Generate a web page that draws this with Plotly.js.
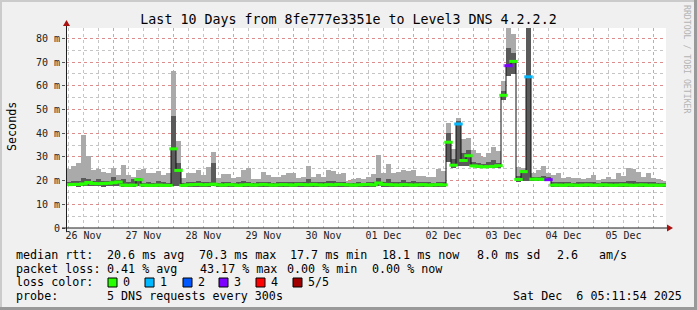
<!DOCTYPE html>
<html>
<head>
<meta charset="utf-8">
<script src="https://cdn.plot.ly/plotly-3.0.1.min.js"></script>
<style>html,body{margin:0;padding:0;background:#f0f0f0;}</style>
</head>
<body>
<div id="chart" style="width:697px;height:310px"></div>
<script>
// ---- data (2-hour bins starting 2025-11-26 06:00) ----
const startUTC = Date.UTC(2025, 10, 26, 6);
const stepHours = 2;

const rttMax = [
  24.8, 26.0, 27.3, 39.4, 30.4, 24.5, 24.8, 23.7, 23.1, 25.2, 22.4, 26.7, 22.4, 21.7, 24.5, 24.8, 23.1, 23.1, 24.2, 22.4, 23.1,
  66.2, 36.8, 21.0, 23.1, 23.3, 24.5, 22.4, 25.9, 31.9, 21.0, 22.7, 22.9, 21.0, 21.5, 24.5, 25.2, 20.5, 20.6, 23.7, 22.4, 21.7, 21.5,
  22.5, 23.1, 23.4, 21.0, 21.5, 26.3, 21.7, 22.8, 21.4, 24.5, 24.0, 22.8, 23.4, 19.8, 20.5, 20.9, 20.5, 21.7, 22.6, 30.8, 23.1, 27.0,
  23.1, 23.8, 24.5, 24.1, 24.5, 21.9, 21.9, 21.5, 21.7, 24.8, 24.1,
  44.2, 33.5, 46.3, 37.5, 38.0, 33.0,
  31.8, 30.1, 31.8, 34.3, 32.5,
  62.0, 84.5, 82.0,
  25.9, 25.5, 85.0, 23.3, 24.5, 26.2, 23.3, 22.5,
  23.1, 20.9, 21.6, 20.9, 21.2, 20.5, 20.9, 22.4, 20.3, 20.5, 21.7, 20.5, 23.1, 21.9, 25.5, 24.8, 23.7, 21.7, 23.1, 20.9, 20.5, 19.7
];
const rttDark = [
  19.5, 19.8, 20.0, 21.3, 20.5, 20.0, 20.8, 20.0, 19.8, 21.6, 20.2, 20.5, 19.5, 20.5, 21.0, 19.2, 19.5, 19.2, 19.8, 19.5, 19.2,
  47.3, 27.6, 19.2, 19.5, 19.4, 19.8, 19.3, 19.6, 27.3, 19.2, 19.5, 19.6, 19.2, 19.3, 19.8, 19.6, 19.2, 19.3, 19.6, 19.4, 19.2, 19.3,
  19.5, 19.6, 19.4, 19.3, 19.5, 20.5, 19.4, 19.6, 19.3, 20.0, 19.8, 19.5, 19.4, 19.0, 19.2, 19.3, 19.2, 19.5, 19.6, 21.0, 19.5, 20.5,
  19.4, 19.5, 20.3, 19.6, 19.8, 19.3, 19.4, 19.3, 19.2, 19.6, 19.5,
  40.0, 29.0, 45.0, 31.6, 33.0, 28.0,
  27.5, 27.2, 27.8, 28.5, 27.5,
  58.0, 76.0, 74.0,
  22.0, 24.5, 85.0, 21.5, 21.5, 22.0, 21.4, 19.5,
  19.6, 19.3, 19.4, 19.2, 19.5, 19.3, 19.4, 19.6, 19.2, 19.3, 19.5, 19.3, 19.6, 19.4, 20.0, 19.8, 19.6, 19.4, 19.5, 19.3, 19.2, 19.0
];
const rttMin = [
  17.6, 17.6, 17.5, 17.6, 17.7, 17.6, 17.6, 17.5, 17.6, 17.7, 17.8, 17.4, 17.3, 17.4, 17.8, 17.4, 17.3, 17.4, 17.4, 17.3, 17.4,
  17.6, 17.8, 17.3, 17.4, 17.5, 17.4, 17.4, 17.5, 17.6, 17.3, 17.4, 17.4, 17.3, 17.3, 17.4, 17.5, 17.3, 17.4, 17.4, 17.3, 17.3, 17.4,
  17.4, 17.3, 17.3, 17.4, 17.4, 17.3, 17.5, 17.4, 17.3, 17.4, 17.4, 17.5, 17.4, 17.3, 17.3, 17.4, 17.4, 17.5, 17.4, 17.6, 17.5, 17.4,
  17.4, 17.3, 17.4, 17.4, 17.3, 17.4, 17.4, 17.3, 17.4, 17.4, 17.4,
  28.0, 25.5, 26.0, 26.0, 26.2, 25.6,
  25.3, 25.2, 25.3, 25.4, 25.5,
  54.0, 64.0, 65.0,
  19.6, 20.0, 20.0, 19.8, 19.8, 19.7, 19.7, 17.4,
  17.4, 17.3, 17.4, 17.4, 17.3, 17.4, 17.4, 17.3, 17.4, 17.4, 17.3, 17.4, 17.4, 17.3, 17.4, 17.4, 17.3, 17.4, 17.4, 17.3, 17.4, 17.3
];
const rttMedian = [
  18.3, 18.4, 18.4, 18.6, 19.2, 18.8, 18.7, 18.8, 18.9, 19.1, 19.4, 18.1, 18.0, 18.1, 20.4, 18.1, 18.0, 18.0, 18.1, 18.0, 18.0,
  33.4, 24.3, 18.0, 18.2, 18.3, 18.4, 18.2, 18.3, 18.5, 18.2, 18.1, 18.3, 18.2, 18.0, 18.2, 18.3, 18.1, 18.2, 18.4, 18.2, 18.1, 18.2,
  18.3, 18.2, 18.1, 18.4, 18.3, 18.2, 18.4, 18.2, 18.1, 18.3, 18.2, 18.4, 18.3, 18.2, 18.1, 18.2, 18.3, 18.4, 18.2, 19.0, 18.4, 18.3,
  18.2, 18.1, 18.3, 18.2, 18.1, 18.2, 18.3, 18.1, 18.2, 18.3, 18.2,
  36.2, 26.5, 43.9, 28.5, 30.5, 26.2,
  26.0, 25.8, 25.9, 26.0, 26.3,
  56.0, 68.5, 70.3,
  20.5, 23.8, 63.8, 20.6, 20.6, 20.5, 20.4, 18.1,
  18.1, 18.0, 18.2, 18.1, 18.0, 18.1, 18.2, 18.0, 18.1, 18.2, 18.1, 18.0, 18.1, 18.2, 18.1, 18.0, 18.1, 18.2, 18.0, 18.1, 18.0, 18.1
];
// packets lost out of 5 per bin
const lossCount = rttMedian.map(() => 0);
lossCount[78] = 1; lossCount[88] = 3; lossCount[92] = 1; lossCount[96] = 3;

const lossColors = ['#26ff00', '#00b8ff', '#0059ff', '#7e00ff', '#ff0000', '#a10000'];
const lossLabels = ['0', '1', '2', '3', '4', '5/5'];
const dayLabelsFmt = '%d %b';

const legendLines = [
  [["median rtt:", 16], ["20.6 ms avg", 107], ["70.3 ms max", 199], ["17.7 ms min", 290], ["18.1 ms now", 382], ["8.0 ms sd", 477], ["2.6", 557], ["am/s", 599]],
  [["packet loss:", 16], ["0.41 % avg", 107], ["43.17 % max", 200], ["0.00 % min", 287], ["0.00 % now", 372]],
  [["probe:", 16], ["5 DNS requests every 300s", 107], ["Sat Dec  6 05:11:54 2025", 513]]
];

// ---- build ----
const times = rttMedian.map((_, i) => {
  const d = new Date(startUTC + i * stepHours * 3600000);
  return d.toISOString().slice(0, 19).replace('T', ' ');
});
const barW = stepHours * 3600000;

const L = 66, R = 666, T = 28, B = 228;
const px = v => (v - L) / (R - L);
const py = v => (B - v) / (B - T);
const mono = 'DejaVu Sans Mono, monospace';

const traces = [
  { type: 'bar', x: times, base: rttMin, y: rttMax.map((m, i) => m - rttMin[i]), width: barW,
    marker: { color: '#aaaaaa', line: { width: 0 } }, hoverinfo: 'skip' },
  { type: 'bar', x: times, base: rttMin, y: rttDark.map((m, i) => m - rttMin[i]), width: barW,
    marker: { color: '#5a5a5a', line: { width: 0 } }, hoverinfo: 'skip' },
  { type: 'scatter', mode: 'lines', x: times, y: rttMedian, line: { color: '#111', width: 1, shape: 'hvh' }, hoverinfo: 'skip' },
  { type: 'scatter', mode: 'markers', x: times, y: rttMedian,
    marker: { symbol: 'line-ew', size: 6, line: { width: 3, color: lossCount.map(c => lossColors[c]) } }, hoverinfo: 'skip' }
];

const annotations = [];
const shapes = [];
const txt = (text, x, y, opts = {}) => annotations.push(Object.assign({
  text, xref: 'paper', yref: 'paper', x: px(x), y: py(y), xanchor: 'left', yanchor: 'middle',
  showarrow: false, borderpad: 0, font: { family: mono, size: 11.7, color: '#000' }
}, opts));

const lineY = [255, 268.5, 296];
legendLines.forEach((items, li) => items.forEach(([t, x]) => txt(t.replace(/ /g, '\u00a0'), x - 1, lineY[li])));
txt('loss color:', 15, 282);
const boxX = [108, 145, 183, 219, 256, 293];
lossColors.forEach((c, i) => {
  shapes.push({ type: 'rect', xref: 'paper', yref: 'paper', x0: px(boxX[i]), x1: px(boxX[i] + 9), y0: py(287), y1: py(278),
    fillcolor: c, line: { color: '#000', width: 1 } });
  txt(lossLabels[i], boxX[i] + 14, 282);
});

// y-axis title and watermark
annotations.push({ text: 'Seconds', xref: 'paper', yref: 'paper', x: px(12), y: py(127), textangle: -90,
  xanchor: 'center', yanchor: 'middle', showarrow: false, font: { family: mono, size: 11.7, color: '#000' } });
annotations.push({ text: 'RRDTOOL / TOBI OETIKER', xref: 'paper', yref: 'paper', x: px(687), y: py(59), textangle: 90,
  xanchor: 'center', yanchor: 'middle', showarrow: false, font: { family: mono, size: 8.2, color: '#b4b4b4' } });

// frame shading
const rectPx = (x0, y0, x1, y1, color) => shapes.push({ type: 'rect', xref: 'paper', yref: 'paper', layer: 'above',
  x0: px(x0), x1: px(x1), y0: py(y1), y1: py(y0), fillcolor: color, line: { width: 0 } });
rectPx(0, 0, 697, 2, '#cbcbcb');
rectPx(0, 0, 2, 310, '#cbcbcb');
rectPx(0, 307, 697, 310, '#999999');
rectPx(694, 0, 697, 310, '#999999');

// axis lines and arrows
shapes.push({ type: 'line', xref: 'paper', yref: 'paper', x0: px(62), x1: px(668), y0: py(228), y1: py(228), line: { color: '#1f1f1f', width: 1 } });
shapes.push({ type: 'line', xref: 'paper', yref: 'paper', x0: px(66.5), x1: px(66.5), y0: py(232), y1: py(25), line: { color: '#1f1f1f', width: 1 } });
shapes.push({ type: 'path', xref: 'paper', yref: 'paper',
  path: `M ${px(667)} ${py(224.5)} L ${px(667)} ${py(231.5)} L ${px(673)} ${py(228)} Z`, fillcolor: '#a11', line: { width: 0 } });
shapes.push({ type: 'path', xref: 'paper', yref: 'paper',
  path: `M ${px(63)} ${py(26)} L ${px(70)} ${py(26)} L ${px(66.5)} ${py(20)} Z`, fillcolor: '#a11', line: { width: 0 } });

const layout = {
  width: 697, height: 310,
  margin: { l: L, r: 697 - R, t: T, b: 310 - B, pad: 0 },
  paper_bgcolor: '#f0f0f0', plot_bgcolor: '#ffffff',
  showlegend: false, barmode: 'overlay', bargap: 0,
  title: { text: 'Last 10 Days from 8fe777e3351e to Level3 DNS 4.2.2.2', font: { family: mono, size: 13.3, color: '#000' },
    x: 0.5, xanchor: 'center', xref: 'container', y: 1 - 19 / 310, yanchor: 'middle', yref: 'container' },
  xaxis: {
    type: 'date', range: ['2025-11-26 05:00', '2025-12-06 05:00'],
    tick0: '2025-11-26', dtick: 86400000, tickformat: dayLabelsFmt, ticklabelmode: 'period',
    showgrid: true, gridcolor: 'rgba(225,120,120,0.75)', griddash: 'dot', gridwidth: 1,
    minor: { dtick: 6 * 3600000, showgrid: true, gridcolor: 'rgba(150,150,150,0.55)', griddash: 'dot', gridwidth: 1 },
    ticks: '', showline: false, zeroline: false,
    tickfont: { family: mono, size: 10, color: '#222' }
  },
  yaxis: {
    range: [0, 84.4], tickmode: 'array',
    tickvals: [0, 10, 20, 30, 40, 50, 60, 70, 80],
    ticktext: ['0', '10 m', '20 m', '30 m', '40 m', '50 m', '60 m', '70 m', '80 m'],
    showgrid: true, gridcolor: 'rgba(225,120,120,0.75)', griddash: 'dot', gridwidth: 1,
    minor: { dtick: 5, showgrid: true, gridcolor: 'rgba(150,150,150,0.55)', griddash: 'dot', gridwidth: 1 },
    ticks: 'outside', ticklen: 3, tickcolor: '#555', showline: false, zeroline: false,
    tickfont: { family: mono, size: 10, color: '#222' }
  },
  annotations, shapes
};

Plotly.newPlot('chart', traces, layout, { staticPlot: true, displayModeBar: false });
</script>
</body>
</html>
